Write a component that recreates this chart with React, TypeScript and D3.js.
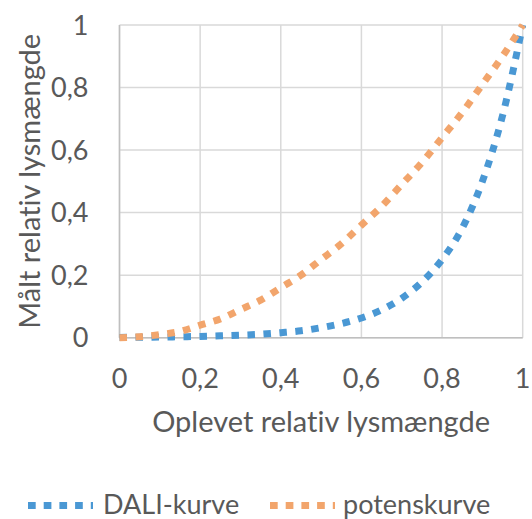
import React from 'react';
import * as d3 from 'd3';

// values
const xValues = [0, 0.05, 0.1, 0.15, 0.2, 0.25, 0.3, 0.35, 0.4, 0.45, 0.5, 0.55, 0.6, 0.65, 0.7, 0.75, 0.8, 0.85, 0.9, 0.95, 1];
const daliValues = [0.001, 0.0014, 0.002, 0.003, 0.004, 0.006, 0.008, 0.011, 0.016, 0.022, 0.032, 0.045, 0.063, 0.089, 0.126, 0.178, 0.25, 0.35, 0.5, 0.71, 1];
const potensValues = [0, 0.003, 0.01, 0.02, 0.04, 0.06, 0.09, 0.12, 0.16, 0.2, 0.25, 0.3, 0.36, 0.42, 0.49, 0.56, 0.64, 0.72, 0.81, 0.9, 1];
const tickValues = [0, 0.2, 0.4, 0.6, 0.8, 1];
const tickLabels = ['0', '0,2', '0,4', '0,6', '0,8', '1'];
const seriesNames = ['DALI-kurve', 'potenskurve'];
const seriesColors = ['#4a98d4', '#f2a56c'];

const width = 532;
const height = 519;
const margin = { top: 25, right: 9.3, bottom: 181.3, left: 119.5 };
const font = 'Lato, "Open Sans", sans-serif';
const textColor = '#595959';

const App: React.FC = () => {
    const innerWidth = width - margin.left - margin.right;
    const innerHeight = height - margin.top - margin.bottom;

    const xScale = d3.scaleLinear().domain([0, 1]).range([0, innerWidth]);
    const yScale = d3.scaleLinear().domain([0, 1]).range([innerHeight, 0]);

    const line = d3.line<[number, number]>()
        .x(d => xScale(d[0]))
        .y(d => yScale(d[1]))
        .curve(d3.curveMonotoneX);

    const series = [daliValues, potensValues].map(vals =>
        xValues.map((x, i) => [x, vals[i]] as [number, number])
    );

    const legendItems = [
        { x: 28, textX: 103 },
        { x: 270, textX: 343 }
    ];

    return (
        <svg width={width} height={height}
            style={{ position: 'absolute', left: 0, top: 0, background: '#fff', fontVariantLigatures: 'none' }}>
            <g transform={`translate(${margin.left},${margin.top})`}>
                {/* grid */}
                {tickValues.map(t => (
                    <line key={`gx${t}`} x1={xScale(t)} x2={xScale(t)} y1={0} y2={innerHeight}
                        stroke="#d9d9d9" strokeWidth={1.5} />
                ))}
                {tickValues.map(t => (
                    <line key={`gy${t}`} x1={0} x2={innerWidth} y1={yScale(t)} y2={yScale(t)}
                        stroke="#d9d9d9" strokeWidth={1.5} />
                ))}
                {/* axis lines */}
                <line x1={0} x2={0} y1={0} y2={innerHeight} stroke="#bfbfbf" strokeWidth={1.5} />
                <line x1={0} x2={innerWidth} y1={innerHeight} y2={innerHeight} stroke="#bfbfbf" strokeWidth={1.5} />

                {/* tick labels */}
                {tickValues.map((t, i) => (
                    <text key={`tx${t}`} x={xScale(t)} y={innerHeight + 50} textAnchor="middle"
                        fontFamily={font} fontSize={27} fill={textColor}>{tickLabels[i]}</text>
                ))}
                {tickValues.map((t, i) => (
                    <text key={`ty${t}`} x={-31} y={yScale(t)} dy="0.36em" textAnchor="end"
                        fontFamily={font} fontSize={27} fill={textColor}>{tickLabels[i]}</text>
                ))}

                {/* series */}
                {series.map((s, i) => (
                    <path key={seriesNames[i]} d={line(s) || ''} fill="none" stroke={seriesColors[i]}
                        strokeWidth={7} strokeDasharray="7.5,8.5" />
                ))}

                {/* axis titles */}
                <text x={innerWidth / 2} y={innerHeight + 94} textAnchor="middle"
                    fontFamily={font} fontSize={29} fill={textColor}>Oplevet relativ lysmængde</text>
            </g>
            <text transform={`translate(40,${margin.top + innerHeight / 2}) rotate(-90)`} textAnchor="middle"
                fontFamily={font} fontSize={29} fill={textColor}>Målt relativ lysmængde</text>

            {/* legend */}
            {legendItems.map((item, i) => (
                <g key={seriesNames[i]}>
                    <line x1={item.x} x2={item.x + 65} y1={505.5} y2={505.5} stroke={seriesColors[i]}
                        strokeWidth={7} strokeDasharray="7.7,8" />
                    <text x={item.textX} y={514} fontFamily={font} fontSize={27} fill={textColor}>{seriesNames[i]}</text>
                </g>
            ))}
        </svg>
    );
};

export default App;
